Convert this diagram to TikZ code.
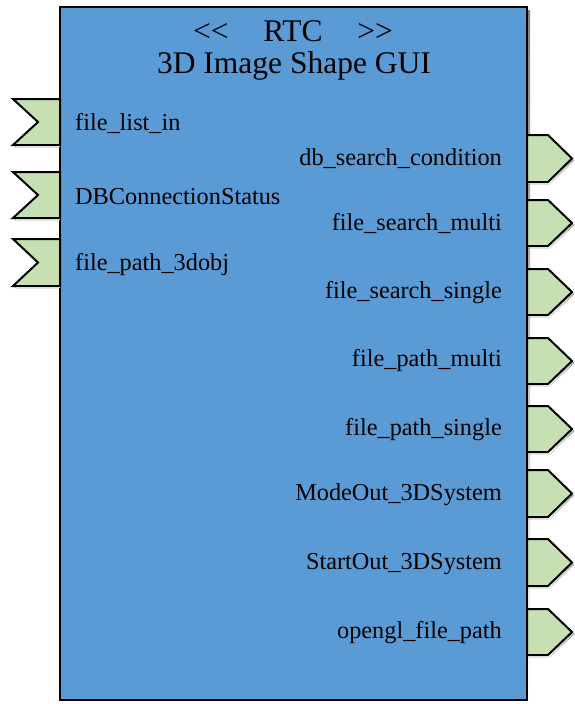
\documentclass[tikz,border=0pt]{standalone}
\usepackage{fontspec}
\setmainfont{Liberation Serif}
\definecolor{rtcblue}{RGB}{91,155,213}
\definecolor{portgreen}{RGB}{198,224,180}
\definecolor{shade}{RGB}{200,214,234}
\begin{document}
\begin{tikzpicture}[x=1pt,y=-1pt,
  rtcbox/.style={draw=black,line width=2.5pt,fill=rtcblue},
  portshape/.style={draw=black,line width=2pt,fill=portgreen,line join=miter},
  inlabel/.style={anchor=west,inner sep=0pt,font=\fontsize{24.3}{27}\selectfont},
  outlabel/.style={anchor=east,inner sep=0pt,font=\fontsize{24.3}{27}\selectfont},
  titletext/.style={inner sep=0pt,font=\fontsize{31.5}{34}\selectfont}]
\useasboundingbox (0,0) rectangle (574,704);
% shadow of main box
\fill[shade] (63,10) rectangle (530,703);
\draw[rtcbox] (60,7) rectangle (527,700);
% input ports
\foreach \t/\b in {99/145,172/218,239/286}{
  \fill[shade] (15,\t+2) -- (60,\t+2) -- (60,\b+2) -- (15,\b+2) -- (40,{(\t+\b)/2+2}) -- cycle;
  \draw[portshape] (13,\t) -- (60,\t) -- (60,\b) -- (13,\b) -- (38,{(\t+\b)/2}) -- cycle;
}
% output ports
\foreach \t/\b in {135/182,200/246,269/315,338/384,406/452,470/517,539/586,609/655}{
  \fill[shade] (529,\t+2) -- (550,\t+2) -- (574,{(\t+\b)/2+2}) -- (550,\b+2) -- (529,\b+2) -- cycle;
  \draw[portshape] (527,\t) -- (548,\t) -- (572,{(\t+\b)/2}) -- (548,\b) -- (527,\b) -- cycle;
}
\node[titletext] (title1) at (293,31) {{<}{<}\hspace{1.1em}RTC\hspace{1.1em}{>}{>}};
\node[titletext] (title2) at (294,66) {3D Image Shape GUI};
\node[inlabel] (in1) at (75,124) {file\_list\_in};
\node[inlabel] (in2) at (75,197) {DBConnectionStatus};
\node[inlabel] (in3) at (75,265) {file\_path\_3dobj};
\node[outlabel] (out1) at (502,159) {db\_search\_condition};
\node[outlabel] (out2) at (502,224) {file\_search\_multi};
\node[outlabel] (out3) at (502,293) {file\_search\_single};
\node[outlabel] (out4) at (502,361) {file\_path\_multi};
\node[outlabel] (out5) at (502,430) {file\_path\_single};
\node[outlabel] (out6) at (502,495) {ModeOut\_3DSystem};
\node[outlabel] (out7) at (502,564) {StartOut\_3DSystem};
\node[outlabel] (out8) at (502,633) {opengl\_file\_path};
\end{tikzpicture}
\end{document}
